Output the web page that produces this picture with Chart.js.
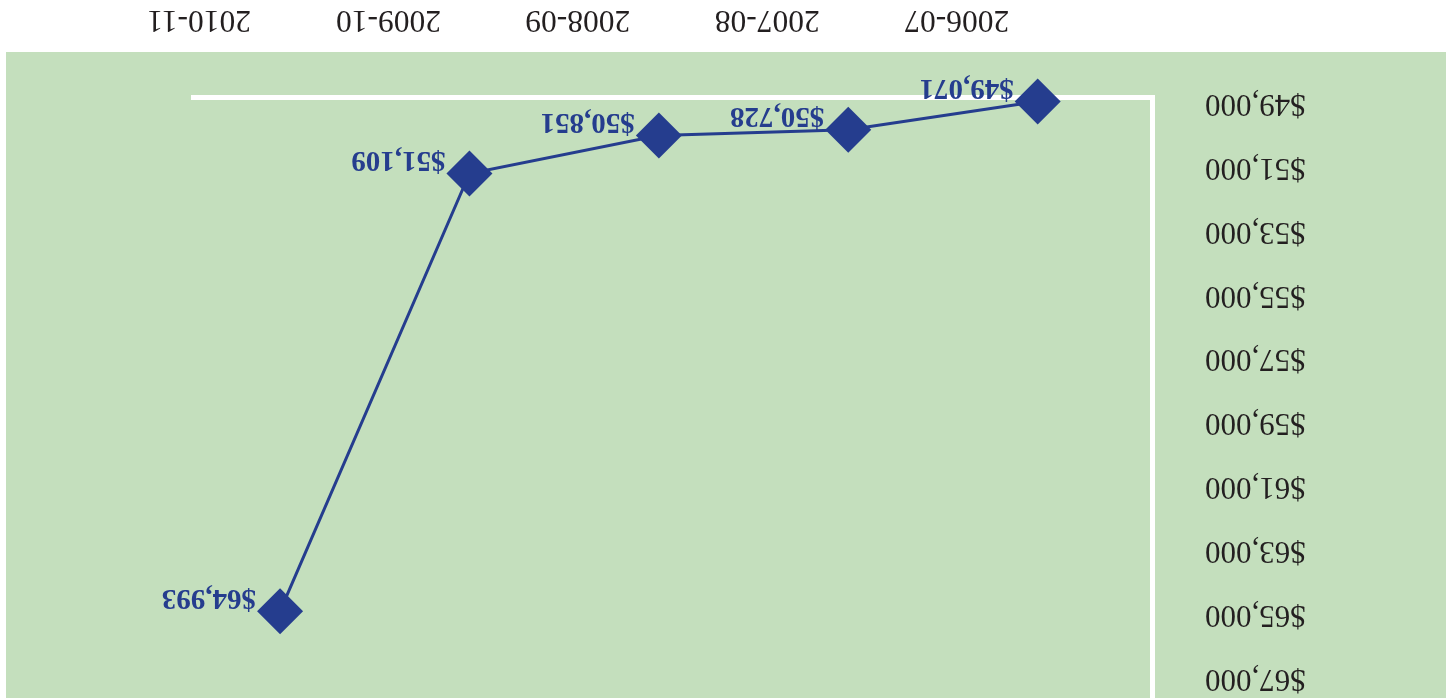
<!DOCTYPE html>
<html>
<head>
<meta charset="utf-8">
<script src="https://cdn.jsdelivr.net/npm/chart.js@4"></script>
<style>
  html, body { margin: 0; padding: 0; background: #ffffff; }
  #wrap { width: 1446px; height: 698px; transform: rotate(180deg); }
</style>
</head>
<body>
<div id="wrap"><canvas id="salary" width="1446" height="698"></canvas></div>
<script>
// school years
var years = ['2006-07', '2007-08', '2008-09', '2009-10', '2010-11'];
// plotted positions
var salary = [48953, 49838, 50017, 51207, 64909];
// values printed next to the markers
var valueLabels = ['$49,071', '$50,728', '$50,851', '$51,109', '$64,993'];
// y axis ticks
var yTicks = [49000, 51000, 53000, 55000, 57000, 59000, 61000, 63000, 65000, 67000];

var blue = '#253d8e';
var green = '#c4dfbd';

var greenPanel = {
    id: 'greenPanel',
    beforeDraw: function (chart) {
        var c = chart.ctx;
        c.save();
        c.fillStyle = green;
        c.fillRect(0, 0, 1440, 646);
        c.restore();
    }
};

var valueTags = {
    id: 'valueTags',
    afterDatasetsDraw: function (chart) {
        var c = chart.ctx;
        var meta = chart.getDatasetMeta(0);
        c.save();
        c.fillStyle = blue;
        c.font = 'bold 29px "Liberation Serif"';
        c.textAlign = 'left';
        c.textBaseline = 'middle';
        meta.data.forEach(function (pt, i) {
            c.fillText(valueLabels[i], pt.x + 24, pt.y + 14);
        });
        c.restore();
    }
};

var ctx = document.getElementById('salary').getContext('2d');
var chart = new Chart(ctx, {
    type: 'line',
    data: {
        datasets: [{
            data: salary.map(function (v, i) { return { x: i, y: v }; }),
            borderColor: blue,
            borderWidth: 3,
            backgroundColor: blue,
            pointStyle: 'rectRot',
            pointRadius: 23,
            pointHoverRadius: 23,
            pointBorderWidth: 0,
            tension: 0,
            clip: false
        }]
    },
    options: {
        responsive: false,
        animation: false,
        layout: { autoPadding: false, padding: { left: 0, right: 192, top: 0, bottom: 0 } },
        plugins: {
            legend: { display: false },
            tooltip: { enabled: false }
        },
        scales: {
            x: {
                type: 'linear',
                min: -0.609,
                max: 4.465,
                grid: { display: false, drawTicks: false },
                border: { display: true, color: '#ffffff', width: 5 },
                afterBuildTicks: function (scale) {
                    scale.ticks = years.map(function (y, i) { return { value: i }; });
                },
                afterFit: function (scale) {
                    scale.height = 98;
                    scale.paddingLeft = 0;
                    scale.paddingRight = 0;
                },
                ticks: {
                    callback: function (v) { return years[v]; },
                    labelOffset: 81,
                    padding: 60,
                    maxRotation: 0,
                    autoSkip: false,
                    color: '#231f20',
                    font: { family: '"Liberation Serif"', size: 31.5 }
                }
            },
            y: {
                min: 48843,
                max: 67626,
                grid: { display: false, drawTicks: false },
                border: { display: true, color: '#ffffff', width: 5 },
                afterBuildTicks: function (scale) {
                    scale.ticks = yTicks.map(function (v) { return { value: v }; });
                },
                afterFit: function (scale) {
                    scale.width = 293;
                    scale.paddingTop = 0;
                    scale.paddingBottom = 0;
                },
                ticks: {
                    callback: function (v) { return '$' + v.toLocaleString('en-US'); },
                    padding: 52,
                    autoSkip: false,
                    color: '#231f20',
                    font: { family: '"Liberation Serif"', size: 31, lineHeight: 0.05 }
                }
            }
        }
    },
    plugins: [greenPanel, valueTags]
});
</script>
</body>
</html>
